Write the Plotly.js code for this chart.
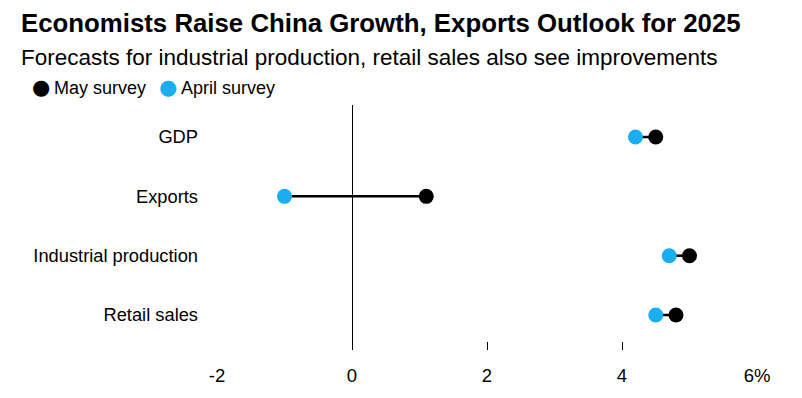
<!DOCTYPE html>
<html>
<head>
<meta charset="utf-8">
<script src="https://cdn.plot.ly/plotly-3.0.1.min.js"></script>
<style>html,body{margin:0;padding:0;background:#fff;}#chart{width:802px;height:398px;}</style>
</head>
<body>
<div id="chart"></div>
<script>
const categories = ["GDP", "Exports", "Industrial production", "Retail sales"];
const maySurvey = [4.5, 1.1, 5.0, 4.8];
const aprilSurvey = [4.2, -1.0, 4.7, 4.5];
const tickValues = [-2, 0, 2, 4, 6];
const tickLabels = ["-2", "0", "2", "4", "6%"];
const seriesNames = ["May survey", "April survey"];

const FONT = "Liberation Sans, Arial, sans-serif";
const BLUE = "#19aef0";
const BLACK = "#000000";

const lineX = [], lineY = [];
categories.forEach((c, i) => {
  lineX.push(aprilSurvey[i], maySurvey[i], null);
  lineY.push(c, c, null);
});

const traces = [
  {x: lineX, y: lineY, type: "scatter", mode: "lines", line: {color: BLACK, width: 2.5},
   showlegend: false, hoverinfo: "skip", cliponaxis: false},
  {x: maySurvey, y: categories, type: "scatter", mode: "markers", name: seriesNames[0],
   marker: {color: BLACK, size: 15}, cliponaxis: false, showlegend: false},
  {x: aprilSurvey, y: categories, type: "scatter", mode: "markers", name: seriesNames[1],
   marker: {color: BLUE, size: 15}, cliponaxis: false, showlegend: false}
];

// pixel -> paper helpers (plot area: x 217..757, y 105..350)
const PL = 217, PW = 540, PB = 350, PH = 245;
const px = v => (v - PL) / PW;
const py = v => (PB - v) / PH;

const legendY = py(88);
const annotations = [
  {text: "Forecasts for industrial production, retail sales also see improvements",
   xref: "paper", yref: "paper", x: px(19), y: py(57), xanchor: "left", yanchor: "middle",
   showarrow: false, font: {family: FONT, size: 22.5, color: BLACK}},
  // legend
  {text: "●", xref: "paper", yref: "paper", x: px(41), y: py(87), xanchor: "center", yanchor: "middle",
   showarrow: false, font: {family: "DejaVu Sans", size: 21, color: BLACK}},
  {text: seriesNames[0], xref: "paper", yref: "paper", x: px(52), y: legendY, xanchor: "left", yanchor: "middle",
   showarrow: false, font: {family: FONT, size: 18, color: BLACK}},
  {text: "●", xref: "paper", yref: "paper", x: px(168), y: py(87), xanchor: "center", yanchor: "middle",
   showarrow: false, font: {family: "DejaVu Sans", size: 21, color: BLUE}},
  {text: seriesNames[1], xref: "paper", yref: "paper", x: px(179), y: legendY, xanchor: "left", yanchor: "middle",
   showarrow: false, font: {family: FONT, size: 18, color: BLACK}}
];

const layout = {
  width: 802, height: 398,
  margin: {l: 217, r: 45, t: 105, b: 48},
  paper_bgcolor: "#fff", plot_bgcolor: "#fff",
  font: {family: FONT, color: BLACK, size: 16},
  title: {text: "<b>Economists Raise China Growth, Exports Outlook for 2025</b>",
          x: 21/802, xanchor: "left", xref: "container", y: 1 - 23/398, yanchor: "middle", yref: "container",
          font: {family: FONT, size: 25.8, color: BLACK}},
  annotations: annotations,
  showlegend: false,
  xaxis: {range: [-2, 6], tickvals: tickValues, ticktext: tickLabels, ticks: "inside", ticklen: 8,
          tickcolor: BLACK, tickwidth: 1, showgrid: false, zeroline: true, zerolinecolor: BLACK,
          zerolinewidth: 1, showline: false, fixedrange: true, ticklabelstandoff: 12,
          tickfont: {family: FONT, size: 18.5, color: BLACK}},
  yaxis: {type: "category", range: [3.59, -0.54], showgrid: false, zeroline: false, showline: false,
          ticks: "", ticklabelstandoff: 18, tickfont: {family: FONT, size: 18.3, color: BLACK}, fixedrange: true}
};

Plotly.newPlot("chart", traces, layout, {displayModeBar: false, staticPlot: true});
</script>
</body>
</html>
